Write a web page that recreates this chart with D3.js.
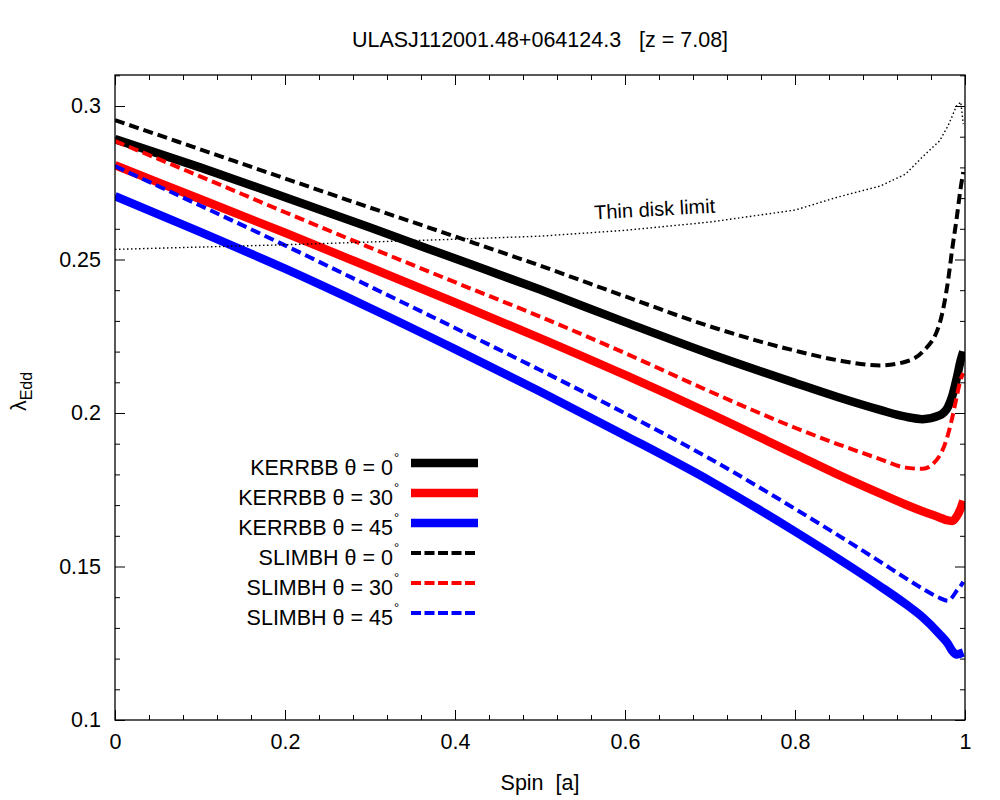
<!DOCTYPE html>
<html>
<head>
<meta charset="utf-8">
<script src="https://cdn.jsdelivr.net/npm/d3@7"></script>
<style>
  html, body { margin: 0; padding: 0; background: #fff; }
  svg { display: block; font-family: "Liberation Sans", Arial, sans-serif; }
</style>
</head>
<body>
<svg id="chart" width="1000" height="800"></svg>
<script>
// ---- data ----
const spin = [0, 0.1, 0.2, 0.3, 0.4, 0.5, 0.6, 0.7, 0.8, 0.85, 0.9, 0.93, 0.95, 0.97, 0.98, 0.985, 0.99, 0.995, 0.998];
const kerrbb0  = [0.2892, 0.2800, 0.2703, 0.2604, 0.2503, 0.2402, 0.2296, 0.2193, 0.2098, 0.2052, 0.2010, 0.1988, 0.1980, 0.1992, 0.2020, 0.2055, 0.2110, 0.2172, 0.2200];
const kerrbb30 = [0.2807, 0.2697, 0.2587, 0.2474, 0.2360, 0.2244, 0.2124, 0.1998, 0.1866, 0.1800, 0.1738, 0.1702, 0.1680, 0.1660, 0.1650, 0.1648, 0.1662, 0.1690, 0.1714];
const kerrbb45 = [0.2706, 0.2590, 0.2470, 0.2342, 0.2208, 0.2070, 0.1927, 0.1779, 0.1614, 0.1527, 0.1436, 0.1378, 0.1335, 0.1280, 0.1248, 0.1225, 0.1213, 0.1217, 0.1220];
const slimbh0  = [0.2954, 0.2859, 0.2764, 0.2669, 0.2575, 0.2480, 0.2380, 0.2282, 0.2203, 0.2172, 0.2155, 0.2167, 0.2199, 0.2290, 0.2430, 0.2535, 0.2630, 0.2735, 0.2785];
const slimbh30 = [0.2886, 0.2771, 0.2654, 0.2539, 0.2426, 0.2314, 0.2195, 0.2070, 0.1952, 0.1899, 0.1850, 0.1822, 0.1818, 0.1860, 0.1930, 0.1985, 0.2050, 0.2110, 0.2130];
const slimbh45 = [0.2804, 0.2676, 0.2546, 0.2412, 0.2277, 0.2140, 0.1999, 0.1851, 0.1688, 0.1603, 0.1516, 0.1462, 0.1428, 0.1398, 0.1388, 0.1400, 0.1420, 0.1437, 0.1450];

const spinThin = [0, 0.2, 0.4, 0.5, 0.6, 0.7, 0.8, 0.85, 0.9, 0.93, 0.95, 0.97, 0.98, 0.99, 0.995, 0.998];
const thinDisk = [0.2533, 0.2548, 0.2566, 0.2576, 0.2595, 0.2622, 0.2661, 0.2703, 0.2739, 0.2778, 0.2834, 0.2886, 0.2935, 0.3000, 0.3013, 0.2941];

const seriesNames = ["KERRBB", "KERRBB", "KERRBB", "SLIMBH", "SLIMBH", "SLIMBH"];
const seriesAngles = ["0", "30", "45", "0", "30", "45"];
const seriesColors = ["#000000", "#ff0000", "#0000ff", "#000000", "#ff0000", "#0000ff"];
const seriesValues = [kerrbb0, kerrbb30, kerrbb45, slimbh0, slimbh30, slimbh45];

const xTicks = [0, 0.2, 0.4, 0.6, 0.8, 1];
const yTicks = [0.1, 0.15, 0.2, 0.25, 0.3];

const titleText = "ULASJ112001.48+064124.3\u00a0\u00a0\u00a0[z = 7.08]";
const xLabelText = "Spin\u00a0\u00a0[a]";
const thinLabelText = "Thin disk limit";

// ---- layout ----
const svg = d3.select("#chart");
const mLeft = 115, mRight = 965, mTop = 75, mBottom = 720;
const x = d3.scaleLinear().domain([0, 1]).range([mLeft, mRight]);
// y(0.1) = 720, y(0.3) = 106
const pxPerUnit = (mBottom - 106) / 0.2;
const y = d3.scaleLinear().domain([0.1, 0.1 + (mBottom - mTop) / pxPerUnit]).range([mBottom, mTop]);

const fontMain = 21.5;

// minor ticks
const xMinor = d3.range(0, 1.0001, 0.04).map(v => +v.toFixed(3)).filter(v => !xTicks.some(t => Math.abs(t - v) < 1e-6));
const yMinor = d3.range(0.1, 0.3101, 0.01).map(v => +v.toFixed(3)).filter(v => !yTicks.some(t => Math.abs(t - v) < 1e-6));

function styleAxis(g) {
  g.select(".domain").remove();
  g.selectAll(".tick line").attr("stroke", "#000").attr("stroke-width", 1);
  g.selectAll(".tick text").attr("fill", "#000").style("font-size", fontMain + "px")
    .style("font-family", '"Liberation Sans", Arial, sans-serif');
}

// bottom axis (labels)
svg.append("g").attr("transform", `translate(0,${mBottom})`)
  .call(d3.axisBottom(x).tickValues(xTicks).tickSizeInner(-10).tickSizeOuter(0).tickPadding(14)
    .tickFormat(d => d3.format("")(d)))
  .call(styleAxis);
svg.append("g").attr("transform", `translate(0,${mBottom})`)
  .call(d3.axisBottom(x).tickValues(xMinor).tickSizeInner(-5).tickSizeOuter(0).tickFormat(""))
  .call(styleAxis);
// top axis mirror
svg.append("g").attr("transform", `translate(0,${mTop})`)
  .call(d3.axisTop(x).tickValues(xTicks).tickSizeInner(-10).tickSizeOuter(0).tickFormat(""))
  .call(styleAxis);
svg.append("g").attr("transform", `translate(0,${mTop})`)
  .call(d3.axisTop(x).tickValues(xMinor).tickSizeInner(-5).tickSizeOuter(0).tickFormat(""))
  .call(styleAxis);
// left axis
svg.append("g").attr("transform", `translate(${mLeft},0)`)
  .call(d3.axisLeft(y).tickValues(yTicks).tickSizeInner(-10).tickSizeOuter(0).tickPadding(14)
    .tickFormat(d => d3.format("")(d)))
  .call(styleAxis);
svg.append("g").attr("transform", `translate(${mLeft},0)`)
  .call(d3.axisLeft(y).tickValues(yMinor).tickSizeInner(-5).tickSizeOuter(0).tickFormat(""))
  .call(styleAxis);
// right axis mirror
svg.append("g").attr("transform", `translate(${mRight},0)`)
  .call(d3.axisRight(y).tickValues(yTicks).tickSizeInner(-10).tickSizeOuter(0).tickFormat(""))
  .call(styleAxis);
svg.append("g").attr("transform", `translate(${mRight},0)`)
  .call(d3.axisRight(y).tickValues(yMinor).tickSizeInner(-5).tickSizeOuter(0).tickFormat(""))
  .call(styleAxis);

// clip
svg.append("clipPath").attr("id", "plotclip")
  .append("rect").attr("x", mLeft).attr("y", mTop).attr("width", mRight - mLeft).attr("height", mBottom - mTop);

const plot = svg.append("g").attr("clip-path", "url(#plotclip)");
const line = d3.line().x(d => x(d[0])).y(d => y(d[1])).curve(d3.curveMonotoneX);
const lineLin = d3.line().x(d => x(d[0])).y(d => y(d[1]));

// solid KERRBB then dashed SLIMBH
seriesValues.forEach((vals, i) => {
  const pts = spin.map((s, j) => [s, vals[j]]);
  const dashed = seriesNames[i] === "SLIMBH";
  plot.append("path")
    .attr("d", line(pts))
    .attr("fill", "none")
    .attr("stroke", seriesColors[i])
    .attr("stroke-width", dashed ? 4 : 8.5)
    .attr("stroke-dasharray", dashed ? "10,5" : null)
    .attr("stroke-linejoin", "round");
});

// thin disk limit (dotted)
plot.append("path")
  .attr("d", lineLin(spinThin.map((s, j) => [s, thinDisk[j]])))
  .attr("fill", "none")
  .attr("stroke", "#000")
  .attr("stroke-width", 1.4)
  .attr("stroke-dasharray", "1.5,2.5");

// frame
svg.append("rect").attr("x", mLeft).attr("y", mTop).attr("width", mRight - mLeft).attr("height", mBottom - mTop)
  .attr("fill", "none").attr("stroke", "#000").attr("stroke-width", 1.3);

// thin disk label
svg.append("text")
  .attr("transform", `translate(655,216) rotate(-3.2)`)
  .attr("text-anchor", "middle")
  .style("font-size", "20px")
  .text(thinLabelText);

// legend
const legTextX = 393, legLineX1 = 411, legLineX2 = 478, legY0 = 463, legDy = 30;
seriesValues.forEach((vals, i) => {
  const yy = legY0 + i * legDy;
  svg.append("text")
    .attr("x", legTextX).attr("y", yy + 12)
    .attr("text-anchor", "end")
    .style("font-size", fontMain + "px")
    .text(`${seriesNames[i]} \u03b8 = ${seriesAngles[i]}`);
  svg.append("text").attr("x", legTextX + 1).attr("y", yy - 1)
    .style("font-size", "13px").text("\u00b0");
  svg.append("line")
    .attr("x1", legLineX1).attr("x2", legLineX2).attr("y1", yy).attr("y2", yy)
    .attr("stroke", seriesColors[i])
    .attr("stroke-width", seriesNames[i] === "SLIMBH" ? 4 : 8.5)
    .attr("stroke-dasharray", seriesNames[i] === "SLIMBH" ? "10,3.5" : null);
});

// title
svg.append("text").attr("x", (mLeft + mRight) / 2).attr("y", 47)
  .attr("text-anchor", "middle").style("font-size", fontMain + "px").text(titleText);

// x label
svg.append("text").attr("x", (mLeft + mRight) / 2).attr("y", 790)
  .attr("text-anchor", "middle").style("font-size", fontMain + "px").text(xLabelText);

// y label: lambda_Edd
const yl = svg.append("text")
  .attr("transform", `translate(26,${(mTop + mBottom) / 2 - 6}) rotate(-90)`)
  .attr("text-anchor", "middle")
  .style("font-size", fontMain + "px");
yl.append("tspan").text("\u03bb");
yl.append("tspan").attr("dy", 6).style("font-size", "16px").text("Edd");
</script>
</body>
</html>
